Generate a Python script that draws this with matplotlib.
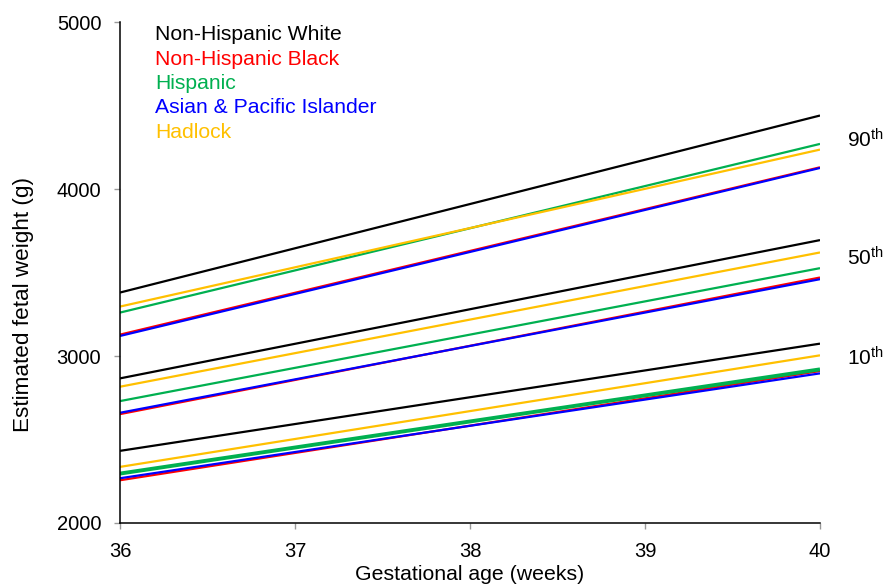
import matplotlib
matplotlib.use("Agg")
import matplotlib.pyplot as plt

plt.rcParams['font.family'] = ['Liberation Sans', 'DejaVu Sans']
plt.rcParams['mathtext.fontset'] = 'custom'
plt.rcParams['mathtext.rm'] = 'Liberation Sans'
plt.rcParams['mathtext.it'] = 'Liberation Sans'

weeks = [36, 40]
groups = ["Non-Hispanic White", "Non-Hispanic Black", "Hispanic",
          "Asian & Pacific Islander", "Hadlock"]
colors = ["#000000", "#FF0000", "#00B050", "#0000FF", "#FFC000"]

p90 = {
    "Non-Hispanic White": [3380, 4440],
    "Non-Hispanic Black": [3128, 4130],
    "Hispanic": [3260, 4270],
    "Asian & Pacific Islander": [3120, 4126],
    "Hadlock": [3296, 4236],
}
p50 = {
    "Non-Hispanic White": [2866, 3694],
    "Non-Hispanic Black": [2652, 3470],
    "Hispanic": [2730, 3526],
    "Asian & Pacific Islander": [2660, 3460],
    "Hadlock": [2816, 3620],
}
p10 = {
    "Non-Hispanic White": [2432, 3074],
    "Non-Hispanic Black": [2256, 2910],
    "Hispanic": [2296, 2920],
    "Asian & Pacific Islander": [2268, 2896],
    "Hadlock": [2336, 3004],
}
percentile_labels = ["90", "50", "10"]
percentile_label_y = [4296, 3590, 2988]

W, H = 885, 587
fig = plt.figure(figsize=(W/100, H/100), dpi=100)
ax = fig.add_axes([120/W, 1-523/H, 700/W, 501/H])

for data in (p90, p50, p10):
    for g, c in zip(groups, colors):
        lw = 1.6
        if data is p10 and g == "Hispanic":
            lw = 2.8
        ax.plot(weeks, data[g], color=c, lw=lw, solid_capstyle='butt')

ax.set_xlim(36, 40)
ax.set_ylim(2000, 5000)
ax.set_xticks([36, 37, 38, 39, 40])
ax.set_yticks([2000, 3000, 4000, 5000])
for s in ['top', 'right']:
    ax.spines[s].set_visible(False)
for s in ['left', 'bottom']:
    ax.spines[s].set_linewidth(1.1)
ax.tick_params(axis='both', direction='out', length=4.5, width=1, color='#999999',
               labelsize=14.5)
ax.tick_params(axis='y', pad=9)
ax.tick_params(axis='x', pad=9)
ax.set_xlabel("Gestational age (weeks)", fontsize=15.3)
ax.set_ylabel("Estimated fetal weight (g)", fontsize=16.2)
ax.yaxis.set_label_coords((34-120)/700, (523-305)/501)
ax.xaxis.set_label_coords(0.5, (523-565)/501)

for i, (g, c) in enumerate(zip(groups, colors)):
    fig.text(155/W, 1 - (35 + 24.3*i)/H, g, color=c, fontsize=15.2,
             va='center', ha='left')

for lab, yv in zip(percentile_labels, percentile_label_y):
    ax.text(40.366, yv, lab + r"$^{\rm th}$", fontsize=15, ha='right', va='center',
            clip_on=False)

fig.savefig("out.png", dpi=100)
